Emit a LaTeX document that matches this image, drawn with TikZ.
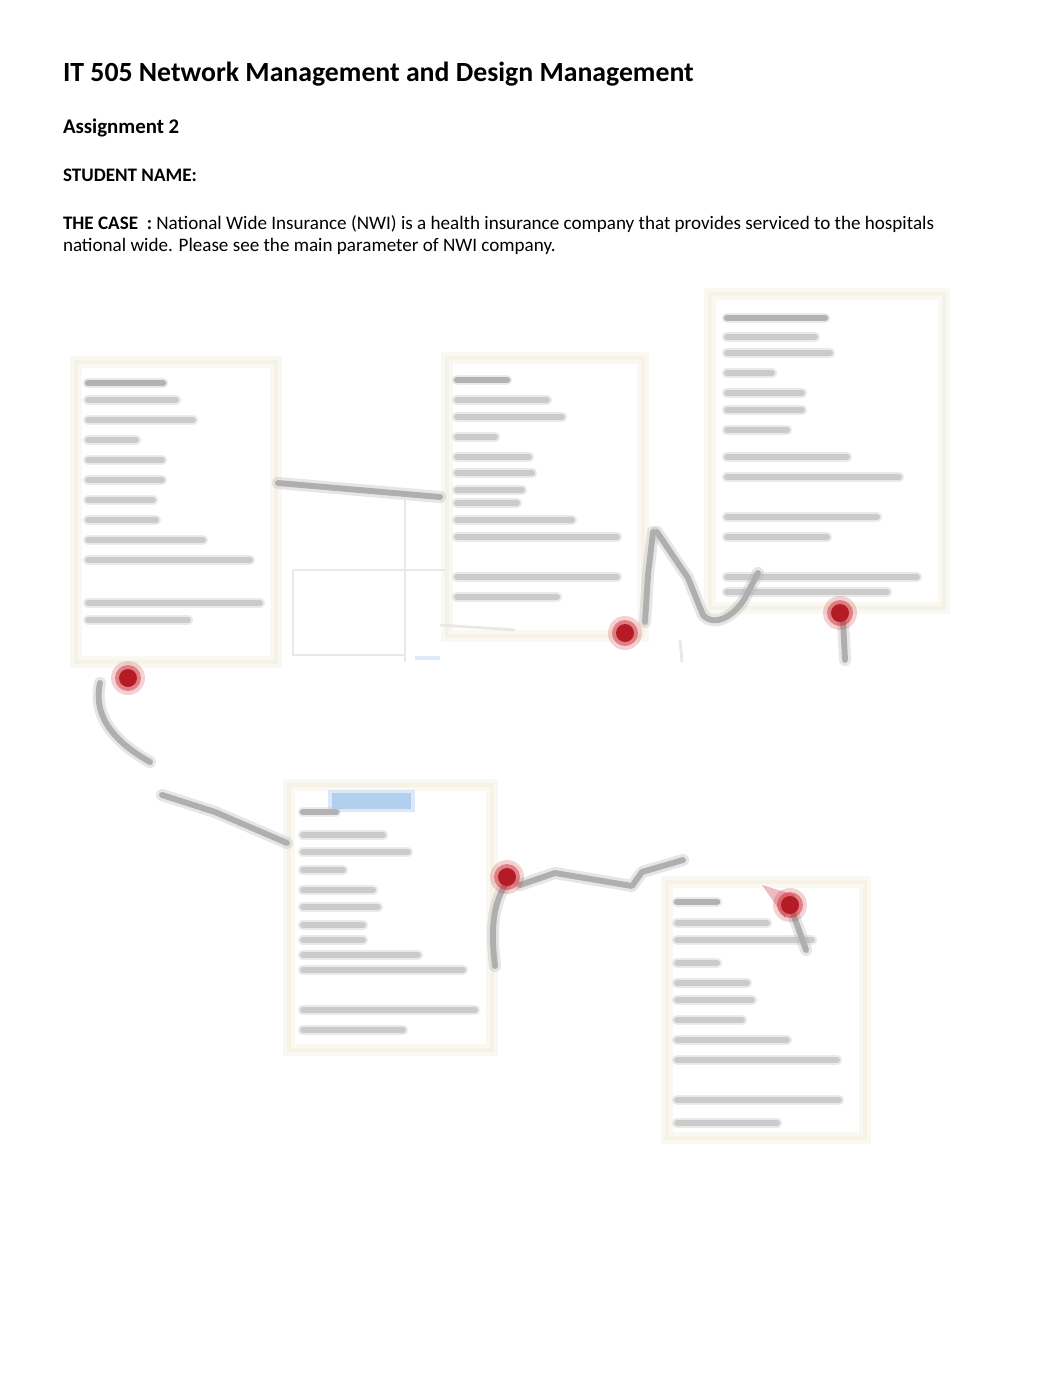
\documentclass[tikz,border=0pt]{standalone}
\usepackage{fontspec}
\setmainfont{Carlito}
\definecolor{frameC}{RGB}{246,243,230}
\definecolor{barC}{RGB}{203,203,203}
\definecolor{barD}{RGB}{178,178,178}
\definecolor{conC}{RGB}{175,175,175}
\definecolor{dotC}{RGB}{200,30,40}
\definecolor{hiC}{RGB}{175,205,238}
\definecolor{faintC}{RGB}{232,232,232}
\newcommand\tl[3]{\draw[tlhalo] (#1,#2) -- ++(#3,0); \draw[tlcore] (#1,#2) -- ++(#3,0);}
\newcommand\ttl[3]{\draw[tlhalo] (#1,#2) -- ++(#3,0); \draw[ttcore] (#1,#2) -- ++(#3,0);}
\newcommand\rdot[2]{\fill[dotC,opacity=0.2] (#1,#2) circle (17); \fill[dotC,opacity=0.45] (#1,#2) circle (13); \fill[dotC!90!black] (#1,#2) circle (9);}
\begin{document}
\begin{tikzpicture}[x=0.5763pt,y=-0.5763pt,
  txt/.style={anchor=base west,inner sep=0pt,outer sep=0pt,text=black},
  tlhalo/.style={line width=6pt,barC,opacity=0.4,line cap=round},
  tlcore/.style={line width=3.4pt,barC,line cap=round},
  ttcore/.style={line width=3.8pt,barD,line cap=round},
  framehalo/.style={draw=frameC,line width=7pt,opacity=0.5},
  framecore/.style={draw=frameC,line width=2.5pt},
  conhalo/.style={conC,line width=7pt,opacity=0.3,line cap=round,line join=round},
  concore/.style={conC,line width=3.4pt,line cap=round,line join=round},
  faint/.style={faintC,line width=1.6pt}]
\useasboundingbox (0,0) rectangle (1062,1377);
\fill[white] (0,0) rectangle (1062,1377);

% header texts
\node[txt,font=\bfseries\fontsize{16}{19}\selectfont] (title) at (63,82) {IT 505 Network Management and Design Management};
\node[txt,font=\bfseries\fontsize{12}{14}\selectfont] (assign) at (63,134) {Assignment 2};
\node[txt,font=\bfseries\fontsize{11}{13}\selectfont] (student) at (63,182) {STUDENT NAME:};
\node[txt,font=\fontsize{11}{13}\selectfont] (case1) at (63,229) {\textbf{THE CASE\ \ :} National Wide Insurance (NWI) is a health insurance company that provides serviced to the hospitals};
\node[txt,font=\fontsize{11}{13}\selectfont] (case2) at (63,252) {national wide. Please see the main parameter of NWI company.};

% frames
\foreach \a/\b/\c/\d in {76/362/276/662, 447/358/643/636, 710/294/944/608, 289/785/492/1050, 667/882/865/1138}{
  \draw[framehalo] (\a,\b) rectangle (\c,\d);
  \draw[framecore] (\a,\b) rectangle (\c,\d);
}

% faint lines near box 1/2
\draw[faint] (293,570) -- (293,655) -- (405,655);
\draw[faint] (293,570) -- (445,570);
\draw[faint] (405,500) -- (405,662);
\draw[faint] (440,625) -- (515,630);
\draw[hiC,line width=2pt,opacity=0.4] (415,658) -- (440,658);

% box 1 text
\ttl{88}{383}{75}
\tl{88}{400}{88} \tl{88}{420}{105} \tl{88}{440}{48} \tl{88}{460}{74}
\tl{88}{480}{74} \tl{88}{500}{65} \tl{88}{520}{68} \tl{88}{540}{115}
\tl{88}{560}{162} \tl{88}{603}{172} \tl{88}{620}{100}

% box 2 text
\ttl{457}{380}{50}
\tl{457}{400}{90} \tl{457}{417}{105} \tl{457}{437}{38} \tl{457}{457}{72}
\tl{457}{473}{75} \tl{457}{490}{65} \tl{457}{503}{60} \tl{457}{520}{115}
\tl{457}{537}{160} \tl{457}{577}{160} \tl{457}{597}{100}

% box 3 text
\ttl{727}{318}{98}
\tl{727}{337}{88} \tl{727}{353}{103} \tl{727}{373}{45} \tl{727}{393}{75}
\tl{727}{410}{75} \tl{727}{430}{60} \tl{727}{457}{120} \tl{727}{477}{172}
\tl{727}{517}{150} \tl{727}{537}{100} \tl{727}{577}{190} \tl{727}{592}{160}

% box 4 text
\fill[hiC,opacity=0.45] (328,790) rectangle (415,812);
\fill[hiC,opacity=0.9] (332,793) rectangle (411,809);
\ttl{303}{812}{33}
\tl{303}{835}{80} \tl{303}{852}{105} \tl{303}{870}{40} \tl{303}{890}{70}
\tl{303}{907}{75} \tl{303}{925}{60} \tl{303}{940}{60} \tl{303}{955}{115}
\tl{303}{970}{160} \tl{303}{1010}{172} \tl{303}{1030}{100}

% box 5 text
\ttl{677}{902}{40}
\tl{677}{923}{90} \tl{677}{940}{135} \tl{677}{963}{40} \tl{677}{983}{70}
\tl{677}{1000}{75} \tl{677}{1020}{65} \tl{677}{1040}{110} \tl{677}{1060}{160}
\tl{677}{1100}{162} \tl{677}{1123}{100}

% connectors
\foreach \s in {conhalo,concore}{
  \draw[\s] (278,483) -- (440,497);
  \draw[\s] (653,532) -- (648,575) -- (645,622);
  \draw[\s] (657,532) -- (688,578) -- (703,615) .. controls (715,628) and (735,615) .. (745,598) -- (758,573);
  \draw[\s] (843,620) -- (845,660);
  \draw[\s] (100,683) .. controls (92,720) and (120,745) .. (150,762);
  \draw[\s] (162,795) -- (215,812) -- (287,843);
  \draw[\s] (505,885) .. controls (490,910) and (492,940) .. (495,966);
  \draw[\s] (520,885) -- (555,873) -- (632,886) -- (642,872) -- (683,860);
  \draw[\s] (790,905) -- (806,950);
}
\draw[faint] (680,640) -- (682,662);

% red dots
\rdot{128}{678}
\rdot{625}{633}
\rdot{840}{613}
\rdot{507}{877}
\fill[dotC,opacity=0.3] (762,885) -- (795,895) -- (785,918) -- cycle;
\rdot{790}{905}
\end{tikzpicture}
\end{document}
